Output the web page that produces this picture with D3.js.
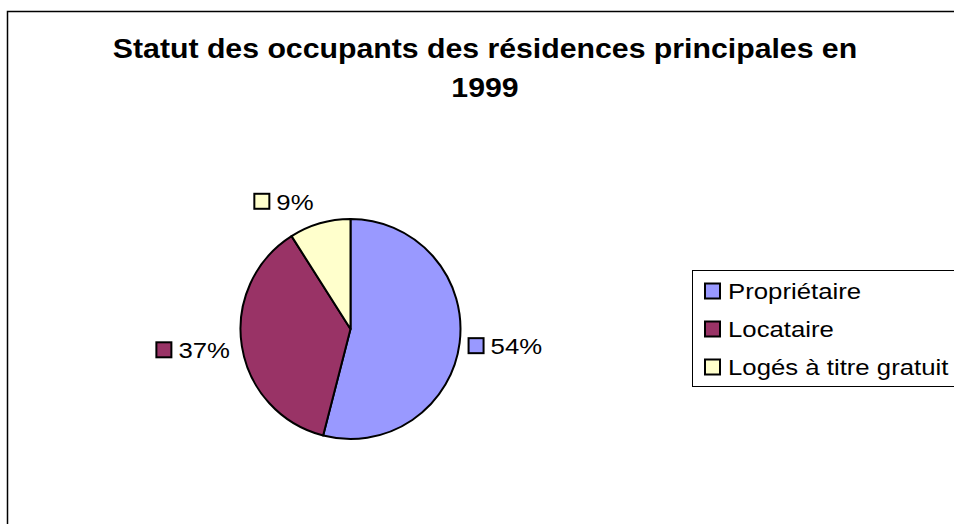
<!DOCTYPE html>
<html lang="fr">
<head>
<meta charset="utf-8">
<title>Statut des occupants des résidences principales en 1999</title>
<script src="https://cdn.jsdelivr.net/npm/d3@7"></script>
<style>
  body { margin: 0; background: #fff; }
  text { font-family: "Liberation Sans", Arial, sans-serif; fill: #000; }
</style>
</head>
<body>
<script>
// chart data
var categories = ["Propriétaire", "Locataire", "Logés à titre gratuit"];
var values = [54, 37, 9];
var colors = ["#9999FF", "#993366", "#FFFFCC"];
var titleLines = ["Statut des occupants des résidences principales en", "1999"];

var W = 954, H = 524;
var sx = 1.12; // the text in the source is stretched a bit horizontally

var svg = d3.select("body").append("svg")
    .attr("width", W)
    .attr("height", H);

// outer frame (runs past the right/bottom edge)
svg.append("rect")
    .attr("x", 7.5).attr("y", 11.5)
    .attr("width", 1000).attr("height", 600)
    .attr("fill", "none")
    .attr("stroke", "#000")
    .attr("stroke-width", 1.5);

// title
svg.selectAll("text.title")
  .data(titleLines)
  .enter().append("text")
    .attr("class", "title")
    .attr("text-anchor", "middle")
    .attr("transform", function (d, i) { return "translate(485," + (58 + i * 39) + ") scale(1.1,1)"; })
    .style("font-size", "27.5px")
    .style("font-weight", "bold")
    .text(function (d) { return d; });

// pie
var cx = 350.5, cy = 329, r = 110;
var pie = d3.pie().sort(null).value(function (d) { return d; });
var arcs = pie(values);
var arc = d3.arc().innerRadius(0).outerRadius(r);

var g = svg.append("g").attr("transform", "translate(" + cx + "," + cy + ")");
g.selectAll("path")
  .data(arcs)
  .enter().append("path")
    .attr("d", arc)
    .attr("fill", function (d, i) { return colors[i]; })
    .attr("stroke", "#000")
    .attr("stroke-width", 2)
    .attr("stroke-linejoin", "round");

// data labels : small swatch + percentage, outside the pie
var total = d3.sum(values);
var labels = g.selectAll("g.lbl")
  .data(arcs)
  .enter().append("g")
    .attr("class", "lbl");

labels.each(function (d, i) {
  var el = d3.select(this);
  var a = (d.startAngle + d.endAngle) / 2;
  var s = Math.sin(a);
  var px = 118 * s + (s < 0 ? -4 : 0);
  var py = -133 * Math.cos(a);
  var txt = el.append("text")
      .style("font-size", "23px")
      .text(Math.round(d.data / total * 100) + "%");
  var tw = txt.node().getComputedTextLength() * sx;
  var wTot = 23 + tw;
  var x0 = px >= 0 ? px : px - wTot;
  txt.attr("transform", "translate(" + (x0 + 23) + "," + (py + 8.5) + ") scale(" + sx + ",1)");
  el.insert("rect", "text")
      .attr("x", x0 + 1).attr("y", py - 7.5)
      .attr("width", 15).attr("height", 15)
      .attr("fill", colors[i])
      .attr("stroke", "#000")
      .attr("stroke-width", 2);
});

// legend
var lg = svg.append("g");
lg.append("rect")
    .attr("x", 692.5).attr("y", 270.5)
    .attr("width", 300).attr("height", 116)
    .attr("fill", "#fff")
    .attr("stroke", "#000")
    .attr("stroke-width", 1);

var items = lg.selectAll("g.item")
  .data(categories)
  .enter().append("g")
    .attr("class", "item")
    .attr("transform", function (d, i) { return "translate(0," + (i * 38) + ")"; });

items.append("rect")
    .attr("x", 705).attr("y", 283.5)
    .attr("width", 15).attr("height", 15)
    .attr("fill", function (d, i) { return colors[i]; })
    .attr("stroke", "#000")
    .attr("stroke-width", 2);

items.append("text")
    .attr("transform", "translate(728,298.5) scale(" + sx + ",1)")
    .style("font-size", "23px")
    .text(function (d) { return d; });
</script>
</body>
</html>
